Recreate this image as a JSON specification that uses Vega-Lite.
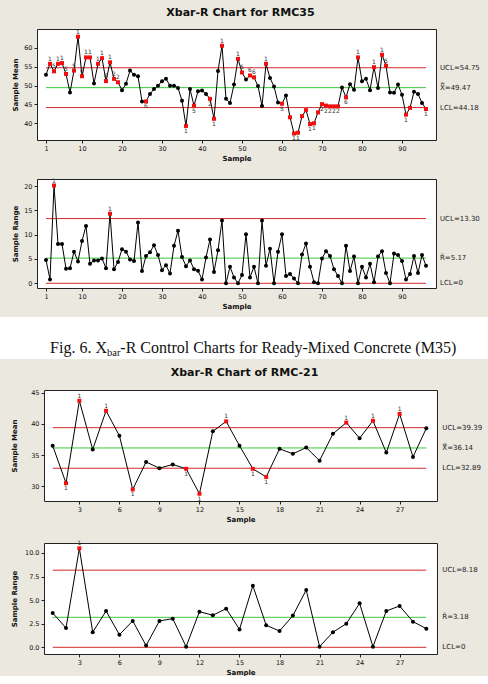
{
  "$schema": "https://vega.github.io/schema/vega-lite/v6.json",
  "background": "#ebe8df",
  "padding": {"left": 0, "top": 6, "right": 0, "bottom": 0},
  "datasets": {
    "m35": [
      {"s":1,"m":52.9,"r":4.8},{"s":2,"m":55.8,"r":0.8,"mt":"1"},{"s":3,"m":53.8,"r":20.1,"mt":"5","rt":"1"},{"s":4,"m":55.8,"r":8.1,"mt":"1"},
      {"s":5,"m":56.0,"r":8.1,"mt":"1"},{"s":6,"m":53.1,"r":3.0,"mt":"5"},{"s":7,"m":48.2,"r":3.1},{"s":8,"m":54.0,"r":6.5,"mt":"5"},
      {"s":9,"m":63.0,"r":4.5,"mt":"1"},{"s":10,"m":52.5,"r":8.7,"mt":"6"},{"s":11,"m":57.5,"r":11.8,"mt":"1"},{"s":12,"m":57.5,"r":4.0,"mt":"1"},
      {"s":13,"m":50.6,"r":4.7},{"s":14,"m":55.8,"r":4.7,"mt":"1"},{"s":15,"m":57.3,"r":5.1,"mt":"1"},{"s":16,"m":51.2,"r":3.1,"mt":"6"},
      {"s":17,"m":56.2,"r":14.3,"mt":"1","rt":"1"},{"s":18,"m":51.8,"r":2.9,"mt":"2"},{"s":19,"m":50.9,"r":4.4,"mt":"2"},{"s":20,"m":48.8,"r":7.0},
      {"s":21,"m":50.5,"r":6.5},{"s":22,"m":54.0,"r":4.9},{"s":23,"m":52.9,"r":4.6},{"s":24,"m":52.5,"r":12.5},
      {"s":25,"m":45.8,"r":2.5},{"s":26,"m":45.8,"r":5.6,"mt":"6"},{"s":27,"m":47.8,"r":6.4},{"s":28,"m":49.1,"r":7.8},
      {"s":29,"m":50.0,"r":5.8},{"s":30,"m":51.2,"r":2.7},{"s":31,"m":51.8,"r":3.7},{"s":32,"m":50.0,"r":2.0},
      {"s":33,"m":50.0,"r":7.7},{"s":34,"m":49.4,"r":10.8},{"s":35,"m":46.0,"r":5.4},{"s":36,"m":39.3,"r":3.5,"mt":"1"},
      {"s":37,"m":49.1,"r":4.7},{"s":38,"m":44.7,"r":2.9,"mt":"5"},{"s":39,"m":48.5,"r":2.6},{"s":40,"m":48.7,"r":0.8},
      {"s":41,"m":47.8,"r":5.3},{"s":42,"m":46.5,"r":9.0,"mt":"2"},{"s":43,"m":41.2,"r":2.3,"mt":"1"},{"s":44,"m":53.9,"r":6.8},
      {"s":45,"m":60.6,"r":12.9,"mt":"1"},{"s":46,"m":46.5,"r":0},{"s":47,"m":45.4,"r":3.4},{"s":48,"m":50.3,"r":1.2},
      {"s":49,"m":57.1,"r":0,"mt":"1"},{"s":50,"m":53.5,"r":1.7,"mt":"5"},{"s":51,"m":51.6,"r":10.1},{"s":52,"m":52.7,"r":1.2,"mt":"6"},
      {"s":53,"m":52.2,"r":3.4,"mt":"6"},{"s":54,"m":49.9,"r":0},{"s":55,"m":44.6,"r":12.9},{"s":56,"m":55.8,"r":3.6,"mt":"1"},
      {"s":57,"m":52.0,"r":7.1},{"s":58,"m":49.8,"r":0},{"s":59,"m":45.5,"r":6.5},{"s":60,"m":45.2,"r":10.1,"mt":"5"},
      {"s":61,"m":47.4,"r":1.5},{"s":62,"m":41.6,"r":1.9,"mt":""},{"s":63,"m":37.3,"r":1.0,"mt":"1"},{"s":64,"m":37.5,"r":0,"mt":"1"},
      {"s":65,"m":41.9,"r":5.9,"mt":""},{"s":66,"m":43.5,"r":8.2,"mt":""},{"s":67,"m":39.8,"r":3.4,"mt":"1"},{"s":68,"m":40.0,"r":0.2,"mt":"1"},
      {"s":69,"m":42.9,"r":0,"mt":""},{"s":70,"m":45.1,"r":5.1,"mt":"2"},{"s":71,"m":44.7,"r":6.6,"mt":"2"},{"s":72,"m":44.5,"r":5.6,"mt":"2"},
      {"s":73,"m":44.5,"r":2.9,"mt":"2"},{"s":74,"m":44.5,"r":1.5,"mt":"2"},{"s":75,"m":49.5,"r":0},{"s":76,"m":46.9,"r":7.7,"mt":"6"},
      {"s":77,"m":50.4,"r":2.5},{"s":78,"m":48.9,"r":5.5},{"s":79,"m":57.5,"r":0,"mt":"1"},{"s":80,"m":51.2,"r":3.4},
      {"s":81,"m":51.8,"r":1.2},{"s":82,"m":48.8,"r":4.0},{"s":83,"m":54.9,"r":0.2,"mt":"1"},{"s":84,"m":49.4,"r":5.5},
      {"s":85,"m":58.2,"r":6.6,"mt":"1"},{"s":86,"m":55.3,"r":2.1,"mt":"5"},{"s":87,"m":48.2,"r":0},{"s":88,"m":48.1,"r":6.1},
      {"s":89,"m":50.3,"r":5.8},{"s":90,"m":47.6,"r":4.6},{"s":91,"m":42.3,"r":0.8,"mt":"1"},{"s":92,"m":44.1,"r":1.9,"mt":""},
      {"s":93,"m":48.4,"r":5.6},{"s":94,"m":47.8,"r":2.1},{"s":95,"m":45.4,"r":5.8},{"s":96,"m":43.8,"r":3.6,"mt":"1"}
    ],
    "m21": [
      {"s":1,"m":36.5,"r":3.64},{"s":2,"m":30.5,"r":2.05,"mt":"1"},{"s":3,"m":43.7,"r":10.5,"mt":"1","rt":"1"},{"s":4,"m":35.9,"r":1.6},
      {"s":5,"m":42.1,"r":3.85,"mt":"1"},{"s":6,"m":38.1,"r":1.34},{"s":7,"m":29.5,"r":2.8,"mt":"1"},{"s":8,"m":33.9,"r":0.18},
      {"s":9,"m":32.9,"r":2.8},{"s":10,"m":33.5,"r":3.04},{"s":11,"m":32.8,"r":0.07,"mt":"1"},{"s":12,"m":28.8,"r":3.78,"mt":"1"},
      {"s":13,"m":38.8,"r":3.4},{"s":14,"m":40.4,"r":4.1,"mt":"1"},{"s":15,"m":36.5,"r":1.9},{"s":16,"m":32.8,"r":6.54,"mt":"1"},
      {"s":17,"m":31.5,"r":2.33,"mt":"1"},{"s":18,"m":36.0,"r":1.73},{"s":19,"m":35.2,"r":3.36},{"s":20,"m":36.2,"r":6.08},
      {"s":21,"m":34.1,"r":0.07},{"s":22,"m":38.4,"r":1.6},{"s":23,"m":40.2,"r":2.5,"mt":"1"},{"s":24,"m":37.7,"r":4.66},
      {"s":25,"m":40.5,"r":0.07,"mt":"1"},{"s":26,"m":35.4,"r":3.85},{"s":27,"m":41.6,"r":4.38,"mt":"1"},{"s":28,"m":34.7,"r":2.72},
      {"s":29,"m":39.3,"r":1.98}
    ],
    "lim35m": [
      {"name":"UCL","value":54.75,"label":"UCL=54.75"},
      {"name":"CL","value":49.47,"label":"X\u033f=49.47"},
      {"name":"LCL","value":44.18,"label":"LCL=44.18"}
    ],
    "lim35r": [
      {"name":"UCL","value":13.30,"label":"UCL=13.30"},
      {"name":"CL","value":5.17,"label":"R\u0304=5.17"},
      {"name":"LCL","value":0,"label":"LCL=0"}
    ],
    "lim21m": [
      {"name":"UCL","value":39.39,"label":"UCL=39.39"},
      {"name":"CL","value":36.14,"label":"X\u033f=36.14"},
      {"name":"LCL","value":32.89,"label":"LCL=32.89"}
    ],
    "lim21r": [
      {"name":"UCL","value":8.18,"label":"UCL=8.18"},
      {"name":"CL","value":3.18,"label":"R\u0304=3.18"},
      {"name":"LCL","value":0,"label":"LCL=0"}
    ],
    "none": []
  },
  "spacing": 7,
  "vconcat": [
    {
      "spacing": 0,
      "hconcat": [
        {"width": 10, "height": 10, "view": {"fill": null, "stroke": null}, "data": {"name": "none"}, "mark": {"type": "point", "opacity": 0}},
        {
          "spacing": 15,
          "vconcat": [
            {
              "title": {"text": "Xbar-R Chart for RMC35", "offset": 11, "dx": 4},
              "width": 399, "height": 111,
              "layer": [
                {
                  "data": {"name": "lim35m"},
                  "encoding": {
                    "y": {"field": "value", "type": "quantitative", "title": "Sample Mean", "scale": {"domain": [35.57, 65.04], "nice": false, "zero": false}, "axis": {"values": [40,45,50,55,60], "minExtent": 14, "maxExtent": 14, "titlePadding": 5}}
                  },
                  "layer": [
                    {"mark": {"type": "rule", "strokeWidth": 1}, "encoding": {"x": {"datum": 1, "type": "quantitative", "scale": {"domain": [-1.25, 98.5], "nice": false, "zero": false}, "title": "Sample", "axis": {"values": [1,10,20,30,40,50,60,70,80,90]}}, "x2": {"datum": 96}, "color": {"condition": {"test": "datum.name == 'CL'", "value": "#3cc83c"}, "value": "#d42a2a"}}},
                    {"mark": {"type": "text", "align": "left", "baseline": "middle", "fontSize": 7, "color": "#222"}, "encoding": {"x": {"datum": 99.5, "type": "quantitative"}, "text": {"field": "label"}}}
                  ]
                },
                {
                  "data": {"name": "m35"},
                  "encoding": {
                    "x": {"field": "s", "type": "quantitative", "title": "Sample", "axis": {"values": [1,10,20,30,40,50,60,70,80,90]}},
                    "y": {"field": "m", "type": "quantitative", "title": "Sample Mean", "axis": {"values": [40,45,50,55,60], "minExtent": 14, "maxExtent": 14, "titlePadding": 5}}
                  },
                  "layer": [
                    {"mark": {"type": "line", "color": "#000", "strokeWidth": 1}},
                    {"mark": {"type": "point", "filled": true, "opacity": 1, "size": 16}, "encoding": {"shape": {"condition": {"test": "datum.mt != null", "value": "square"}, "value": "circle"}, "color": {"condition": {"test": "datum.mt != null", "value": "#f01010"}, "value": "#000"}}},
                    {"transform": [{"filter": "datum.mt != null && datum.m >= 49.47"}], "mark": {"type": "text", "baseline": "bottom", "dy": -2, "fontSize": 6, "color": "#333"}, "encoding": {"text": {"field": "mt"}}},
                    {"transform": [{"filter": "datum.mt != null && datum.m < 49.47"}], "mark": {"type": "text", "baseline": "top", "dy": 2, "fontSize": 6, "color": "#333"}, "encoding": {"text": {"field": "mt"}}}
                  ]
                }
              ]
            },
            {
              "width": 399, "height": 109,
              "layer": [
                {
                  "data": {"name": "lim35r"},
                  "encoding": {
                    "y": {"field": "value", "type": "quantitative", "title": "Sample Range", "scale": {"domain": [-0.97, 21.44], "nice": false, "zero": false}, "axis": {"values": [0,5,10,15,20], "minExtent": 14, "maxExtent": 14, "titlePadding": 5}}
                  },
                  "layer": [
                    {"mark": {"type": "rule", "strokeWidth": 1}, "encoding": {"x": {"datum": 1, "type": "quantitative", "scale": {"domain": [-1.25, 98.5], "nice": false, "zero": false}, "title": "Sample", "axis": {"values": [1,10,20,30,40,50,60,70,80,90]}}, "x2": {"datum": 96}, "color": {"condition": {"test": "datum.name == 'CL'", "value": "#3cc83c"}, "value": "#d42a2a"}}},
                    {"mark": {"type": "text", "align": "left", "baseline": "middle", "fontSize": 7, "color": "#222"}, "encoding": {"x": {"datum": 99.5, "type": "quantitative"}, "text": {"field": "label"}}}
                  ]
                },
                {
                  "data": {"name": "m35"},
                  "encoding": {
                    "x": {"field": "s", "type": "quantitative", "title": "Sample", "axis": {"values": [1,10,20,30,40,50,60,70,80,90]}},
                    "y": {"field": "r", "type": "quantitative", "title": "Sample Range", "axis": {"values": [0,5,10,15,20], "minExtent": 14, "maxExtent": 14, "titlePadding": 5}}
                  },
                  "layer": [
                    {"mark": {"type": "line", "color": "#000", "strokeWidth": 1}},
                    {"mark": {"type": "point", "filled": true, "opacity": 1, "size": 16}, "encoding": {"shape": {"condition": {"test": "datum.rt != null", "value": "square"}, "value": "circle"}, "color": {"condition": {"test": "datum.rt != null", "value": "#f01010"}, "value": "#000"}}},
                    {"transform": [{"filter": "datum.rt != null"}], "mark": {"type": "text", "baseline": "bottom", "dy": -2, "fontSize": 6, "color": "#333"}, "encoding": {"text": {"field": "rt"}}}
                  ]
                }
              ]
            }
          ]
        }
      ]
    },
    {
      "width": 488, "height": 42,
      "view": {"fill": "white", "stroke": null},
      "data": {"values": [{"a": "Fig. 6. X", "b": "bar", "c": "-R Control Charts for Ready-Mixed Concrete (M35)"}]},
      "encoding": {"x": {"datum": 50, "type": "quantitative", "scale": {"domain": [0, 100]}, "axis": null}},
      "layer": [
        {"mark": {"type": "text", "font": "Liberation Serif", "fontSize": 16, "align": "right", "baseline": "alphabetic", "dx": -137, "dy": 15, "color": "#111"}, "encoding": {"text": {"field": "a"}}},
        {"mark": {"type": "text", "font": "Liberation Serif", "fontSize": 10.5, "align": "left", "baseline": "alphabetic", "dx": -137, "dy": 18, "color": "#111"}, "encoding": {"text": {"field": "b"}}},
        {"mark": {"type": "text", "font": "Liberation Serif", "fontSize": 16, "align": "left", "baseline": "alphabetic", "dx": -123.7, "dy": 15, "color": "#111"}, "encoding": {"text": {"field": "c"}}}
      ]
    },
    {
      "spacing": 0,
      "hconcat": [
        {"width": 10, "height": 10, "view": {"fill": null, "stroke": null}, "data": {"name": "none"}, "mark": {"type": "point", "opacity": 0}},
        {
          "spacing": 16,
          "vconcat": [
            {
              "title": {"text": "Xbar-R Chart of RMC-21", "offset": 12, "dx": 4},
              "width": 393, "height": 111,
              "layer": [
                {
                  "data": {"name": "lim21m"},
                  "encoding": {
                    "y": {"field": "value", "type": "quantitative", "title": "Sample Mean", "scale": {"domain": [27.64, 45.43], "nice": false, "zero": false}, "axis": {"values": [30,35,40,45], "minExtent": 20, "maxExtent": 20, "titlePadding": 6.3}}
                  },
                  "layer": [
                    {"mark": {"type": "rule", "strokeWidth": 1}, "encoding": {"x": {"datum": 1, "type": "quantitative", "scale": {"domain": [0.35, 29.8], "nice": false, "zero": false}, "title": "Sample", "axis": {"values": [3,6,9,12,15,18,21,24,27]}}, "x2": {"datum": 29}, "color": {"condition": {"test": "datum.name == 'CL'", "value": "#3cc83c"}, "value": "#d42a2a"}}},
                    {"mark": {"type": "text", "align": "left", "baseline": "middle", "fontSize": 7, "color": "#222"}, "encoding": {"x": {"datum": 30.2, "type": "quantitative"}, "text": {"field": "label"}}}
                  ]
                },
                {
                  "data": {"name": "m21"},
                  "encoding": {
                    "x": {"field": "s", "type": "quantitative", "title": "Sample", "axis": {"values": [3,6,9,12,15,18,21,24,27]}},
                    "y": {"field": "m", "type": "quantitative", "title": "Sample Mean", "axis": {"values": [30,35,40,45], "minExtent": 20, "maxExtent": 20, "titlePadding": 6.3}}
                  },
                  "layer": [
                    {"mark": {"type": "line", "color": "#000", "strokeWidth": 1}},
                    {"mark": {"type": "point", "filled": true, "opacity": 1, "size": 16}, "encoding": {"shape": {"condition": {"test": "datum.mt != null", "value": "square"}, "value": "circle"}, "color": {"condition": {"test": "datum.mt != null", "value": "#f01010"}, "value": "#000"}}},
                    {"transform": [{"filter": "datum.mt != null && datum.m >= 36.14"}], "mark": {"type": "text", "baseline": "bottom", "dy": -2, "fontSize": 6, "color": "#333"}, "encoding": {"text": {"field": "mt"}}},
                    {"transform": [{"filter": "datum.mt != null && datum.m < 36.14"}], "mark": {"type": "text", "baseline": "top", "dy": 2, "fontSize": 6, "color": "#333"}, "encoding": {"text": {"field": "mt"}}}
                  ]
                }
              ]
            },
            {
              "width": 393, "height": 111,
              "layer": [
                {
                  "data": {"name": "lim21r"},
                  "encoding": {
                    "y": {"field": "value", "type": "quantitative", "title": "Sample Range", "scale": {"domain": [-0.71, 11.06], "nice": false, "zero": false}, "axis": {"values": [0,2.5,5,7.5,10], "format": ".1f", "minExtent": 20, "maxExtent": 20, "titlePadding": 6.3}}
                  },
                  "layer": [
                    {"mark": {"type": "rule", "strokeWidth": 1}, "encoding": {"x": {"datum": 1, "type": "quantitative", "scale": {"domain": [0.35, 29.8], "nice": false, "zero": false}, "title": "Sample", "axis": {"values": [3,6,9,12,15,18,21,24,27]}}, "x2": {"datum": 29}, "color": {"condition": {"test": "datum.name == 'CL'", "value": "#3cc83c"}, "value": "#d42a2a"}}},
                    {"mark": {"type": "text", "align": "left", "baseline": "middle", "fontSize": 7, "color": "#222"}, "encoding": {"x": {"datum": 30.2, "type": "quantitative"}, "text": {"field": "label"}}}
                  ]
                },
                {
                  "data": {"name": "m21"},
                  "encoding": {
                    "x": {"field": "s", "type": "quantitative", "title": "Sample", "axis": {"values": [3,6,9,12,15,18,21,24,27]}},
                    "y": {"field": "r", "type": "quantitative", "title": "Sample Range", "axis": {"values": [0,2.5,5,7.5,10], "format": ".1f", "minExtent": 20, "maxExtent": 20, "titlePadding": 6.3}}
                  },
                  "layer": [
                    {"mark": {"type": "line", "color": "#000", "strokeWidth": 1}},
                    {"mark": {"type": "point", "filled": true, "opacity": 1, "size": 16}, "encoding": {"shape": {"condition": {"test": "datum.rt != null", "value": "square"}, "value": "circle"}, "color": {"condition": {"test": "datum.rt != null", "value": "#f01010"}, "value": "#000"}}},
                    {"transform": [{"filter": "datum.rt != null"}], "mark": {"type": "text", "baseline": "bottom", "dy": -2, "fontSize": 6, "color": "#333"}, "encoding": {"text": {"field": "rt"}}}
                  ]
                }
              ]
            }
          ]
        }
      ]
    }
  ],
  "config": {
    "view": {"fill": "white", "stroke": "#222", "strokeWidth": 1},
    "axis": {"domain": false, "grid": false, "ticks": true, "tickColor": "#222", "tickSize": 3, "tickWidth": 1, "labelPadding": 2, "labelOverlap": false, "labelFont": "DejaVu Sans", "labelFontSize": 6.5, "labelColor": "#111", "titleFont": "DejaVu Sans", "titleFontSize": 7, "titleFontWeight": "bold", "titleColor": "#111"},
    "axisX": {"titlePadding": 3},
    "title": {"font": "DejaVu Sans", "fontSize": 11, "fontWeight": "bold", "color": "#111"},
    "text": {"font": "DejaVu Sans"}
  }
}
